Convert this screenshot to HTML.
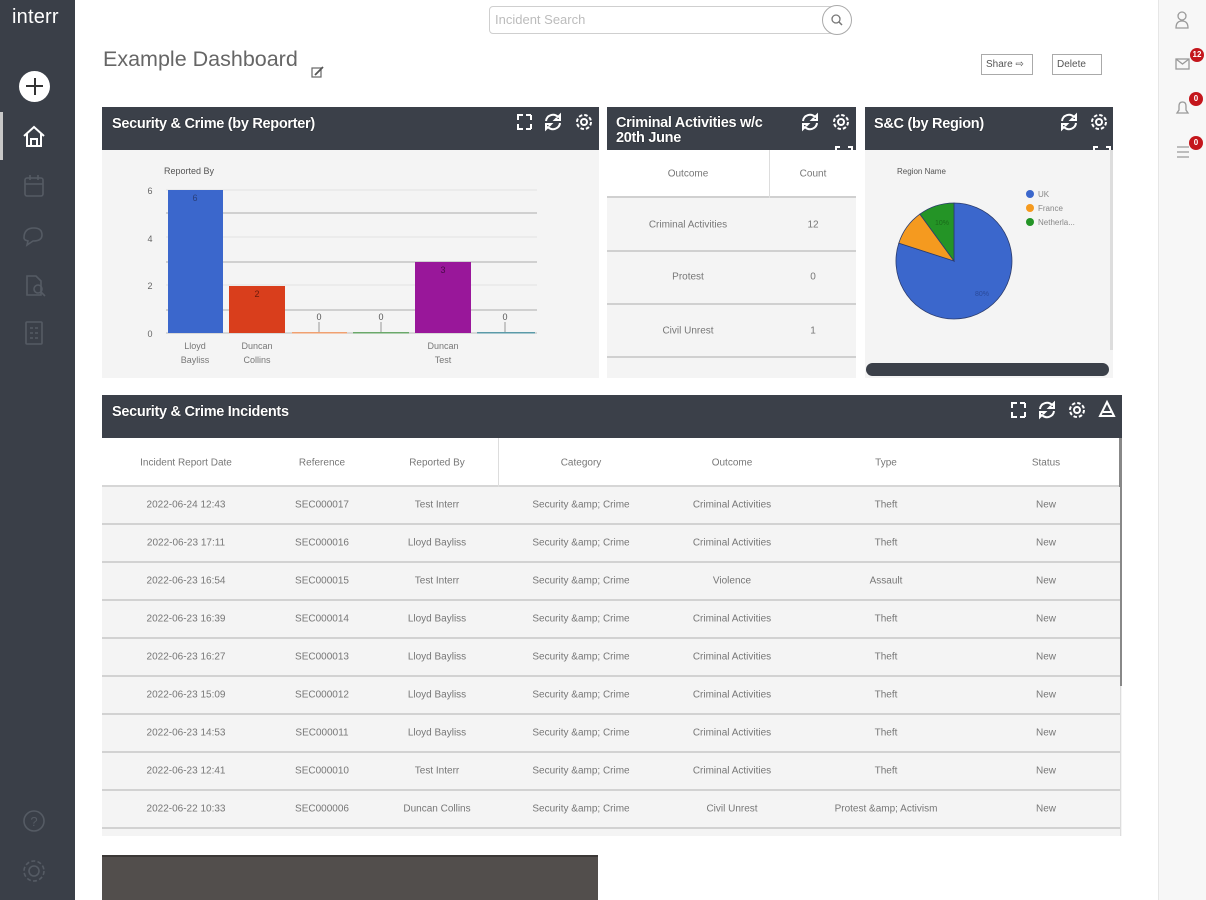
<!DOCTYPE html>
<html><head><meta charset="utf-8">
<style>
*{box-sizing:border-box;margin:0;padding:0}
body{width:1206px;height:900px;overflow:hidden;background:#fff;font-family:"Liberation Sans",Arial,sans-serif;position:relative}
.a{position:absolute}
.side{left:0;top:0;width:75px;height:900px;background:#3a3f48}
.rside{left:1158px;top:0;width:48px;height:900px;background:#f7f7f7;border-left:1px solid #e6e6e6}
.hdr{background:#3b4049;color:#fff;font-weight:bold;font-size:14.5px;letter-spacing:-0.3px;text-shadow:0 0 1px #000}
.body{background:#f4f4f4}
.t{position:absolute;font-size:10px;color:#777;white-space:nowrap;transform:translate(-50%,-50%)}
.row{position:absolute;left:102px;width:1018px;height:38px;background:#f4f4f4;border-bottom:2px solid #d2d2d2}
.badge{position:absolute;width:14px;height:14px;border-radius:7px;background:#c4161c;color:#fff;font-size:8px;font-weight:bold;text-align:center;line-height:14px}
</style></head><body>

<!-- left sidebar -->
<div class="a side"></div>
<div class="a" style="left:12px;top:6px;color:#fff;font-size:20px;letter-spacing:0.2px">interr</div>
<div class="a" style="left:19px;top:71px;width:31px;height:31px;border-radius:50%;background:#fff"></div>
<div class="a" style="left:26px;top:85px;width:17px;height:2px;background:#333"></div>
<div class="a" style="left:33.5px;top:78px;width:2px;height:17px;background:#333"></div>
<div class="a" style="left:0;top:112px;width:3px;height:48px;background:#c8c8c8"></div>
<svg class="a" style="left:0;top:0" width="75" height="900">
 <g fill="none" stroke="#fff" stroke-width="2">
  <path d="M24 136 L34 127 L44 136 M27 134 V146 H41 V134 M31 146 V139 H37 V146"/>
 </g>
 <g fill="none" stroke="#555b64" stroke-width="1.6">
  <rect x="25" y="178" width="18" height="18" rx="2"/><path d="M25 184 H43 M30 175 V180 M38 175 V180"/>
  <path d="M24 238 q0 -10 10 -10 q8 0 8 7 q0 6 -9 6 l-6 4 l1 -4 q-4 -1 -4 -3z"/>
  <path d="M27 276 H36 L41 281 V295 H27 Z"/><circle cx="38" cy="289" r="4"/><path d="M41 292 L45 296"/>
  <rect x="26" y="322" width="16" height="22" rx="1"/><path d="M30 328 h3 M35 328 h3 M30 333 h3 M35 333 h3 M30 338 h3 M35 338 h3"/>
  <circle cx="34" cy="821" r="10"/>
  <circle cx="34" cy="871" r="5"/><circle cx="34" cy="871" r="10" stroke-dasharray="4 2.3"/>
 </g>
 <text x="34" y="826" fill="#555b64" font-size="13" text-anchor="middle" font-family="Liberation Sans">?</text>
</svg>

<!-- right sidebar -->
<div class="a rside"></div>
<svg class="a" style="left:1158px;top:0" width="48" height="180">
 <g fill="none" stroke="#9a9a9a" stroke-width="1.3">
  <circle cx="24" cy="16" r="4"/><path d="M18 28 q0 -7 6 -7 q6 0 6 7 z"/>
  <rect x="18" y="59" width="13" height="10"/><path d="M18 59 l6.5 5 l6.5 -5"/>
  <path d="M19 113 h11 l-2 -3 v-4 q0 -4 -3.5 -4 q-3.5 0 -3.5 4 v4z"/>
  <path d="M19 147 h12 M19 152 h12 M19 157 h12"/>
 </g>
</svg>
<div class="badge" style="left:1190px;top:48px">12</div>
<div class="badge" style="left:1189px;top:92px">0</div>
<div class="badge" style="left:1189px;top:136px">0</div>

<!-- top bar -->
<div class="a" style="left:489px;top:6px;width:350px;height:28px;border:1px solid #cfcfcf;border-radius:4px;background:#fff"></div>
<div class="a" style="left:495px;top:12px;font-size:13px;color:#bcbcbc">Incident Search</div>
<div class="a" style="left:822px;top:5px;width:30px;height:30px;border:1px solid #aaa;border-radius:50%;background:#fff"></div>
<svg class="a" style="left:822px;top:5px" width="30" height="30"><circle cx="14" cy="14" r="4" fill="none" stroke="#777" stroke-width="1.3"/><path d="M17 17 L20 20" stroke="#777" stroke-width="1.5"/></svg>

<div class="a" style="left:103px;top:47px;font-size:21.5px;color:#666">Example Dashboard</div>
<svg class="a" style="left:311px;top:65px" width="16" height="14"><rect x="1" y="3" width="9" height="9" fill="none" stroke="#666" stroke-width="1.2"/><path d="M4 10 L12 2" stroke="#555" stroke-width="1.8"/></svg>

<div class="a" style="left:981px;top:54px;width:52px;height:21px;border:1px solid #aaa;background:#fff;font-size:10px;color:#555;line-height:19px;padding-left:4px">Share ⇨</div>
<div class="a" style="left:1052px;top:54px;width:50px;height:21px;border:1px solid #aaa;background:#fff;font-size:10px;color:#555;line-height:19px;padding-left:4px">Delete</div>

<!-- Widget 1 -->
<div class="a hdr" style="left:102px;top:107px;width:497px;height:43px;padding:9px 0 0 10px">Security &amp; Crime (by Reporter)</div>
<div class="a body" style="left:102px;top:150px;width:497px;height:228px"></div>
<svg class="a" style="left:0;top:0;pointer-events:none" width="1206" height="900">
 <!-- bar chart -->
 <text x="164" y="174" font-size="9" fill="#555" font-family="Liberation Sans">Reported By</text>
 <g stroke-width="1">
  <line x1="166" y1="190" x2="537" y2="190" stroke="#e2e2e2"/>
  <line x1="166" y1="213" x2="537" y2="213" stroke="#c4c4c4" stroke-width="1.5"/>
  <line x1="166" y1="237" x2="537" y2="237" stroke="#e2e2e2"/>
  <line x1="166" y1="262" x2="537" y2="262" stroke="#c4c4c4" stroke-width="1.5"/>
  <line x1="166" y1="285" x2="537" y2="285" stroke="#e2e2e2"/>
  <line x1="166" y1="310" x2="537" y2="310" stroke="#c4c4c4" stroke-width="1.5"/>
  <line x1="166" y1="333" x2="537" y2="333" stroke="#bbb"/>
 </g>
 <g font-size="9" fill="#666" font-family="Liberation Sans" text-anchor="middle">
  <text x="150" y="194">6</text><text x="150" y="242">4</text><text x="150" y="289">2</text><text x="150" y="337">0</text>
 </g>
 <rect x="168" y="190" width="55" height="143" fill="#3b67cc"/>
 <rect x="229" y="286" width="56" height="47" fill="#d93e1c"/>
 <rect x="292" y="332" width="55" height="1.5" fill="#f0a070"/>
 <rect x="353" y="332" width="56" height="1.5" fill="#6aa86a"/>
 <rect x="415" y="262" width="56" height="71" fill="#99179a"/>
 <rect x="477" y="332" width="58" height="1.5" fill="#5a9aa8"/>
 <g stroke="#999" stroke-width="1"><line x1="319" y1="322" x2="319" y2="332"/><line x1="381" y1="322" x2="381" y2="332"/><line x1="505" y1="322" x2="505" y2="332"/></g>
 <g font-size="9" fill="#555" font-family="Liberation Sans" text-anchor="middle">
  <text x="195" y="201" fill="#2a3f7a">6</text><text x="257" y="297" fill="#6a1c0c">2</text><text x="443" y="273" fill="#4a0a4a">3</text>
  <text x="319" y="320">0</text><text x="381" y="320">0</text><text x="505" y="320">0</text>
  <text x="195" y="349" fill="#777">Lloyd</text><text x="195" y="363" fill="#777">Bayliss</text>
  <text x="257" y="349" fill="#777">Duncan</text><text x="257" y="363" fill="#777">Collins</text>
  <text x="443" y="349" fill="#777">Duncan</text><text x="443" y="363" fill="#777">Test</text>
 </g>
</svg>

<!-- Widget 2 -->
<div class="a hdr" style="left:607px;top:107px;width:249px;height:43px;padding:9px 0 0 9px;line-height:15px;overflow:hidden">Criminal Activities w/c<br>20th June</div>
<div class="a" style="left:607px;top:150px;width:249px;height:48px;background:#fff;border-bottom:2px solid #d0d0d0"></div>
<div class="a" style="left:769px;top:150px;width:1px;height:48px;background:#ddd"></div>
<div class="a" style="left:607px;top:198px;width:249px;height:54px;background:#f4f4f4;border-bottom:2px solid #d0d0d0"></div>
<div class="a" style="left:607px;top:252px;width:249px;height:53px;background:#f4f4f4;border-bottom:2px solid #d0d0d0"></div>
<div class="a" style="left:607px;top:305px;width:249px;height:53px;background:#f4f4f4;border-bottom:2px solid #d0d0d0"></div>
<div class="a" style="left:607px;top:358px;width:249px;height:20px;background:#f4f4f4"></div>
<div class="t" style="left:688px;top:174px">Outcome</div>
<div class="t" style="left:813px;top:174px">Count</div>
<div class="t" style="left:688px;top:225px">Criminal Activities</div>
<div class="t" style="left:813px;top:225px">12</div>
<div class="t" style="left:688px;top:277px">Protest</div>
<div class="t" style="left:813px;top:277px">0</div>
<div class="t" style="left:688px;top:331px">Civil Unrest</div>
<div class="t" style="left:813px;top:331px">1</div>

<!-- Widget 3 -->
<div class="a hdr" style="left:865px;top:107px;width:248px;height:43px;padding:9px 0 0 9px">S&amp;C (by Region)</div>
<div class="a body" style="left:865px;top:150px;width:248px;height:228px"></div>
<div class="a" style="left:1110px;top:150px;width:3px;height:200px;background:#ddd"></div>
<div class="a" style="left:866px;top:363px;width:243px;height:13px;border-radius:7px;background:#3b4049"></div>
<svg class="a" style="left:0;top:0;pointer-events:none" width="1206" height="900">
 <text x="897" y="174" font-size="8" fill="#555" font-family="Liberation Sans">Region Name</text>
 <g stroke="#2b3c6e" stroke-width="0.8">
  <path d="M954 261 L954 203 A58 58 0 1 1 898.8 243.1 Z" fill="#3b67cc"/>
  <path d="M954 261 L898.8 243.1 A58 58 0 0 1 919.9 214.1 Z" fill="#f59a1f"/>
  <path d="M954 261 L919.9 214.1 A58 58 0 0 1 954 203 Z" fill="#249426"/>
 </g>
 <text x="975" y="296" font-size="7" fill="#2a4a9a" font-family="Liberation Sans">80%</text>
 <text x="935" y="225" font-size="7" fill="#1a6a1a" font-family="Liberation Sans">10%</text>
 <circle cx="1030" cy="194" r="4" fill="#3b67cc"/>
 <circle cx="1030" cy="208" r="4" fill="#f59a1f"/>
 <circle cx="1030" cy="222" r="4" fill="#249426"/>
 <g font-size="8" fill="#888" font-family="Liberation Sans">
  <text x="1038" y="197">UK</text><text x="1038" y="211">France</text><text x="1038" y="225">Netherla...</text>
 </g>
</svg>

<!-- Widget 4 -->
<div class="a hdr" style="left:102px;top:395px;width:1020px;height:43px;padding:9px 0 0 10px">Security &amp; Crime Incidents</div>
<div class="a" style="left:102px;top:438px;width:1020px;height:398px;background:#f4f4f4"></div>
<div class="a" style="left:102px;top:438px;width:1018px;height:49px;background:#fff;border-bottom:2px solid #d6d6d6"></div>
<div class="a" style="left:498px;top:438px;width:1px;height:49px;background:#ddd"></div>
<div class="a" style="left:1119px;top:438px;width:3px;height:248px;background:#888"></div>
<div class="a" style="left:1120px;top:686px;width:1px;height:150px;background:#ddd"></div>

<div class="row" style="top:487px"></div>
<div class="row" style="top:525px"></div>
<div class="row" style="top:563px"></div>
<div class="row" style="top:601px"></div>
<div class="row" style="top:639px"></div>
<div class="row" style="top:677px"></div>
<div class="row" style="top:715px"></div>
<div class="row" style="top:753px"></div>
<div class="row" style="top:791px"></div>

<div class="t" style="left:186px;top:463px">Incident Report Date</div>
<div class="t" style="left:322px;top:463px">Reference</div>
<div class="t" style="left:437px;top:463px">Reported By</div>
<div class="t" style="left:581px;top:463px">Category</div>
<div class="t" style="left:732px;top:463px">Outcome</div>
<div class="t" style="left:886px;top:463px">Type</div>
<div class="t" style="left:1046px;top:463px">Status</div>

<div class="t" style="left:186px;top:505px">2022-06-24 12:43</div><div class="t" style="left:322px;top:505px">SEC000017</div><div class="t" style="left:437px;top:505px">Test Interr</div><div class="t" style="left:581px;top:505px">Security &amp;amp; Crime</div><div class="t" style="left:732px;top:505px">Criminal Activities</div><div class="t" style="left:886px;top:505px">Theft</div><div class="t" style="left:1046px;top:505px">New</div>
<div class="t" style="left:186px;top:543px">2022-06-23 17:11</div><div class="t" style="left:322px;top:543px">SEC000016</div><div class="t" style="left:437px;top:543px">Lloyd Bayliss</div><div class="t" style="left:581px;top:543px">Security &amp;amp; Crime</div><div class="t" style="left:732px;top:543px">Criminal Activities</div><div class="t" style="left:886px;top:543px">Theft</div><div class="t" style="left:1046px;top:543px">New</div>
<div class="t" style="left:186px;top:581px">2022-06-23 16:54</div><div class="t" style="left:322px;top:581px">SEC000015</div><div class="t" style="left:437px;top:581px">Test Interr</div><div class="t" style="left:581px;top:581px">Security &amp;amp; Crime</div><div class="t" style="left:732px;top:581px">Violence</div><div class="t" style="left:886px;top:581px">Assault</div><div class="t" style="left:1046px;top:581px">New</div>
<div class="t" style="left:186px;top:619px">2022-06-23 16:39</div><div class="t" style="left:322px;top:619px">SEC000014</div><div class="t" style="left:437px;top:619px">Lloyd Bayliss</div><div class="t" style="left:581px;top:619px">Security &amp;amp; Crime</div><div class="t" style="left:732px;top:619px">Criminal Activities</div><div class="t" style="left:886px;top:619px">Theft</div><div class="t" style="left:1046px;top:619px">New</div>
<div class="t" style="left:186px;top:657px">2022-06-23 16:27</div><div class="t" style="left:322px;top:657px">SEC000013</div><div class="t" style="left:437px;top:657px">Lloyd Bayliss</div><div class="t" style="left:581px;top:657px">Security &amp;amp; Crime</div><div class="t" style="left:732px;top:657px">Criminal Activities</div><div class="t" style="left:886px;top:657px">Theft</div><div class="t" style="left:1046px;top:657px">New</div>
<div class="t" style="left:186px;top:695px">2022-06-23 15:09</div><div class="t" style="left:322px;top:695px">SEC000012</div><div class="t" style="left:437px;top:695px">Lloyd Bayliss</div><div class="t" style="left:581px;top:695px">Security &amp;amp; Crime</div><div class="t" style="left:732px;top:695px">Criminal Activities</div><div class="t" style="left:886px;top:695px">Theft</div><div class="t" style="left:1046px;top:695px">New</div>
<div class="t" style="left:186px;top:733px">2022-06-23 14:53</div><div class="t" style="left:322px;top:733px">SEC000011</div><div class="t" style="left:437px;top:733px">Lloyd Bayliss</div><div class="t" style="left:581px;top:733px">Security &amp;amp; Crime</div><div class="t" style="left:732px;top:733px">Criminal Activities</div><div class="t" style="left:886px;top:733px">Theft</div><div class="t" style="left:1046px;top:733px">New</div>
<div class="t" style="left:186px;top:771px">2022-06-23 12:41</div><div class="t" style="left:322px;top:771px">SEC000010</div><div class="t" style="left:437px;top:771px">Test Interr</div><div class="t" style="left:581px;top:771px">Security &amp;amp; Crime</div><div class="t" style="left:732px;top:771px">Criminal Activities</div><div class="t" style="left:886px;top:771px">Theft</div><div class="t" style="left:1046px;top:771px">New</div>
<div class="t" style="left:186px;top:809px">2022-06-22 10:33</div><div class="t" style="left:322px;top:809px">SEC000006</div><div class="t" style="left:437px;top:809px">Duncan Collins</div><div class="t" style="left:581px;top:809px">Security &amp;amp; Crime</div><div class="t" style="left:732px;top:809px">Civil Unrest</div><div class="t" style="left:886px;top:809px">Protest &amp;amp; Activism</div><div class="t" style="left:1046px;top:809px">New</div>

<!-- bottom widget -->
<div class="a" style="left:102px;top:855px;width:496px;height:45px;background:#524e4c;border-top:2px solid #3b3836"></div>

<!-- header icons (on top of everything) -->
<svg class="a" style="left:0;top:0;pointer-events:none" width="1206" height="900">
 <g fill="none" stroke="#fff" stroke-width="2">
  <path d="M518 120 v-5 h5 M531 115 h-5 M531 115 v5 M518 124 v5 h5 M531 129 h-5 M531 129 v-5"/>
  <path d="M546 121 a7 7 0 0 1 12 -4 l2 -2 v5 h-5 l2 -2 M560 123 a7 7 0 0 1 -12 4 l-2 2 v-5 h5 l-2 2"/>
  <circle cx="584" cy="122" r="3"/><circle cx="584" cy="122" r="7" stroke-dasharray="3.5 2"/>
  <!-- w2 -->
  <path d="M803 121 a7 7 0 0 1 12 -4 l2 -2 v5 h-5 l2 -2 M817 123 a7 7 0 0 1 -12 4 l-2 2 v-5 h5 l-2 2"/>
  <circle cx="841" cy="122" r="3"/><circle cx="841" cy="122" r="7" stroke-dasharray="3.5 2"/>
  <path d="M836 150 v-3 h4 M848 147 h4 v3"/>
  <!-- w3 -->
  <path d="M1062 121 a7 7 0 0 1 12 -4 l2 -2 v5 h-5 l2 -2 M1076 123 a7 7 0 0 1 -12 4 l-2 2 v-5 h5 l-2 2"/>
  <circle cx="1099" cy="122" r="3"/><circle cx="1099" cy="122" r="7" stroke-dasharray="3.5 2"/>
  <path d="M1094 150 v-3 h4 M1106 147 h4 v3"/>
  <!-- w4 -->
  <path d="M1012 408 v-5 h5 M1025 403 h-5 M1025 403 v5 M1012 412 v5 h5 M1025 417 h-5 M1025 417 v-5"/>
  <path d="M1040 409 a7 7 0 0 1 12 -4 l2 -2 v5 h-5 l2 -2 M1054 411 a7 7 0 0 1 -12 4 l-2 2 v-5 h5 l-2 2"/>
  <circle cx="1077" cy="410" r="3"/><circle cx="1077" cy="410" r="7" stroke-dasharray="3.5 2"/>
  <path d="M1107 402 l7 14 h-14 z M1103 412 h8"/>
 </g>
</svg>

</body></html>
